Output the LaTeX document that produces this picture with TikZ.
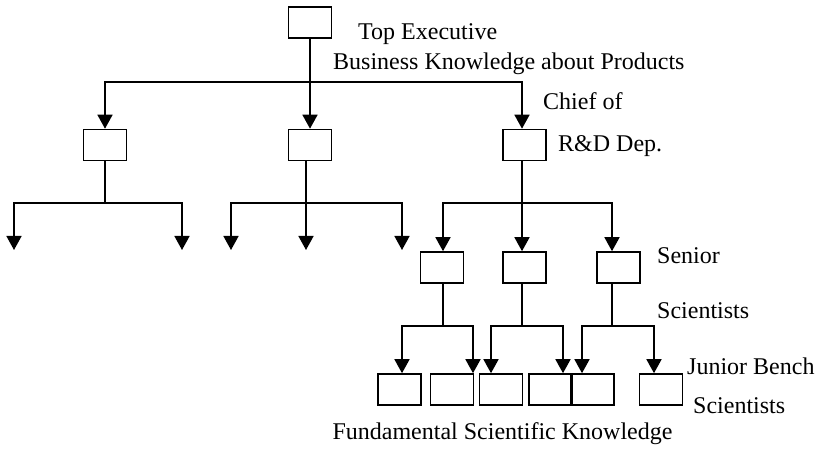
\documentclass[tikz,border=0pt]{standalone}
\usepackage{fontspec}
\setmainfont{Liberation Serif}
\usetikzlibrary{arrows.meta}
\begin{document}
\begin{tikzpicture}[x=1pt,y=-1pt,
  box/.style={draw,line width=1.6pt,minimum width=43pt,minimum height=31pt,inner sep=0pt},
  conn/.style={line width=1.6pt},
  arr/.style={conn,-{Triangle[width=15pt,length=14pt]}},
  lbl/.style={anchor=west,inner sep=0pt,font=\fontsize{24}{26}\selectfont}]
\useasboundingbox (0,0) rectangle (815,449);
% boxes
\node[box] (top) at (310,22.5) {};
\node[box] (a) at (105,145) {};
\node[box] (b) at (310,145) {};
\node[box] (c) at (524.5,145) {};
\node[box] (s1) at (442,267.5) {};
\node[box] (s2) at (524.5,267.5) {};
\node[box] (s3) at (618.5,267.5) {};
\node[box] (j1) at (399.5,389.5) {};
\node[box] (j2) at (452,389.5) {};
\node[box] (j3) at (501,389.5) {};
\node[box] (j4) at (550.5,389.5) {};
\node[box] (j5) at (592.5,389.5) {};
\node[box] (j6) at (661,389.5) {};
% free ends
\coordinate (a1) at (14,250);
\coordinate (a2) at (182,250);
\coordinate (b1) at (231,250);
\coordinate (b2) at (306,250);
\coordinate (b3) at (402,250);
% level 1
\draw[arr] (top.south) -- (310,82) -| (a.north);
\draw[arr] (top.south) -- (b.north);
\draw[arr] (top.south) -- (310,82) -| ([xshift=-2.5pt]c.north);
% left and middle groups
\draw[arr] (a.south) -- (105,203) -| (a1);
\draw[arr] (a.south) -- (105,203) -| (a2);
\draw[arr] ([xshift=-4pt]b.south) -- (b2);
\draw[arr] ([xshift=-4pt]b.south) -- (306,203) -| (b1);
\draw[arr] ([xshift=-4pt]b.south) -- (306,203) -| (b3);
% R&D group
\draw[arr] ([xshift=-2.5pt]c.south) -- ([xshift=-2.5pt]s2.north);
\draw[arr] ([xshift=-2.5pt]c.south) -- (522,203) -| ([xshift=1pt]s1.north);
\draw[arr] ([xshift=-2.5pt]c.south) -- (522,203) -| ([xshift=-6.5pt]s3.north);
% junior groups
\draw[arr] ([xshift=1pt]s1.south) -- (443,326) -| ([xshift=2.5pt]j1.north);
\draw[arr] ([xshift=1pt]s1.south) -- (443,326) -| ([xshift=21pt]j2.north);
\draw[arr] ([xshift=-2.5pt]s2.south) -- (522,326) -| ([xshift=-10pt]j3.north);
\draw[arr] ([xshift=-2.5pt]s2.south) -- (522,326) -| ([xshift=12.5pt]j4.north);
\draw[arr] ([xshift=-6.5pt]s3.south) -- (612,326) -| ([xshift=-10.5pt]j5.north);
\draw[arr] ([xshift=-6.5pt]s3.south) -- (612,326) -| ([xshift=-7pt]j6.north);
% labels
\node[lbl] (t1) at (358,34) {Top Executive};
\node[lbl] (t2) at (333,64) {Business Knowledge about Products};
\node[lbl] (t3) at (543,101) {Chief of};
\node[lbl] (t4) at (558,146) {R\&D Dep.};
\node[lbl] (t5) at (657,256) {Senior};
\node[lbl] (t6) at (657,311) {Scientists};
\node[lbl] (t7) at (687,366) {Junior Bench};
\node[lbl] (t8) at (693,406) {Scientists};
\node[lbl,anchor=center] (t9) at (502.5,434) {Fundamental Scientific Knowledge};
\end{tikzpicture}
\end{document}
